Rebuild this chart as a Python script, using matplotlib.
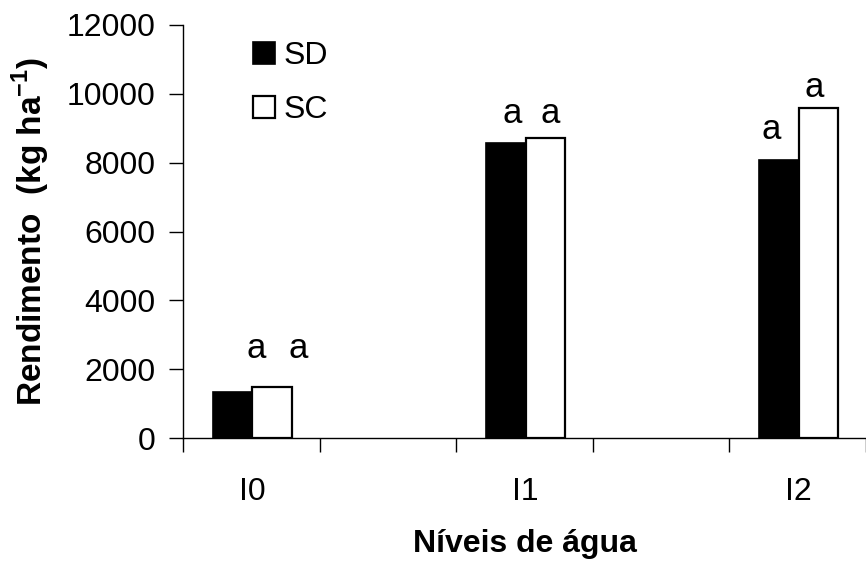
import matplotlib
matplotlib.use("Agg")
from matplotlib import pyplot as plt
import numpy as np

categories = ["I0", "I1", "I2"]
sd_vals = [1330, 8580, 8080]
sc_vals = [1480, 8720, 9600]
sd_letters = ["a", "a", "a"]
sc_letters = ["a", "a", "a"]
y_ticks = [0, 2000, 4000, 6000, 8000, 10000, 12000]

# manual label offsets (pixels) as in the original figure
sd_offsets = [(24, 44), (6, 29), (-8, 30)]
sc_offsets = [(26, 39), (5, 24), (-4, 20)]


def main():
    plt.rcParams['font.family'] = ['Liberation Sans', 'DejaVu Sans']
    plt.rcParams['mathtext.fontset'] = 'custom'
    plt.rcParams['mathtext.bf'] = 'Liberation Sans:bold'
    plt.rcParams['mathtext.rm'] = 'Liberation Sans'
    fig = plt.figure(figsize=(8.66, 5.65), dpi=100)
    ax = fig.add_axes([183 / 866, 1 - 438 / 565, 1 - 183 / 866, 413 / 565])

    x = np.arange(len(categories))
    w = 40 / 275.5
    b1 = ax.bar(x - w / 2, sd_vals, w, color='black', edgecolor='black', linewidth=1.2, label='SD')
    b2 = ax.bar(x + w / 2, sc_vals, w, color='white', edgecolor='black', linewidth=1.6, label='SC')

    for bars, letters, offs in [(b1, sd_letters, sd_offsets), (b2, sc_letters, sc_offsets)]:
        for r, t, (dx, dy) in zip(bars, letters, offs):
            ax.annotate(t, (r.get_x() + r.get_width() / 2, r.get_height()),
                        xytext=(dx, dy), textcoords='offset pixels',
                        ha='center', va='center', fontsize=25)

    left = -70 / 275.5
    ax.set_xlim(left, (866 - 254) / 275.5)
    ax.set_ylim(0, 12000)
    ax.set_yticks(y_ticks)
    ax.set_xticks(x)
    ax.set_xticklabels(categories)
    ax.set_xticks(left + 0.5 * np.arange(6), minor=True)
    ax.tick_params(axis='x', which='major', length=0, pad=28, labelsize=23)
    ax.tick_params(axis='x', which='minor', length=10, width=1, direction='out')
    ax.tick_params(axis='y', length=10, width=1, direction='out', pad=10, labelsize=23)

    for sp in ['top', 'right']:
        ax.spines[sp].set_visible(False)
    ax.spines['left'].set_linewidth(1)
    ax.spines['bottom'].set_linewidth(1)

    ax.set_ylabel(r'Rendimento  (kg ha$^{\mathbf{-1}}$)', fontsize=24, fontweight='bold', labelpad=10)
    ax.set_xlabel('Níveis de água', fontsize=23, fontweight='bold', labelpad=16)

    ax.legend(loc='upper left', bbox_to_anchor=(0.06, 1.03), frameon=False, fontsize=23,
              handlelength=0.7, handleheight=0.7, handletextpad=0.25, labelspacing=0.75)

    fig.savefig('out.png', dpi=100)


if __name__ == "__main__":
    main()
